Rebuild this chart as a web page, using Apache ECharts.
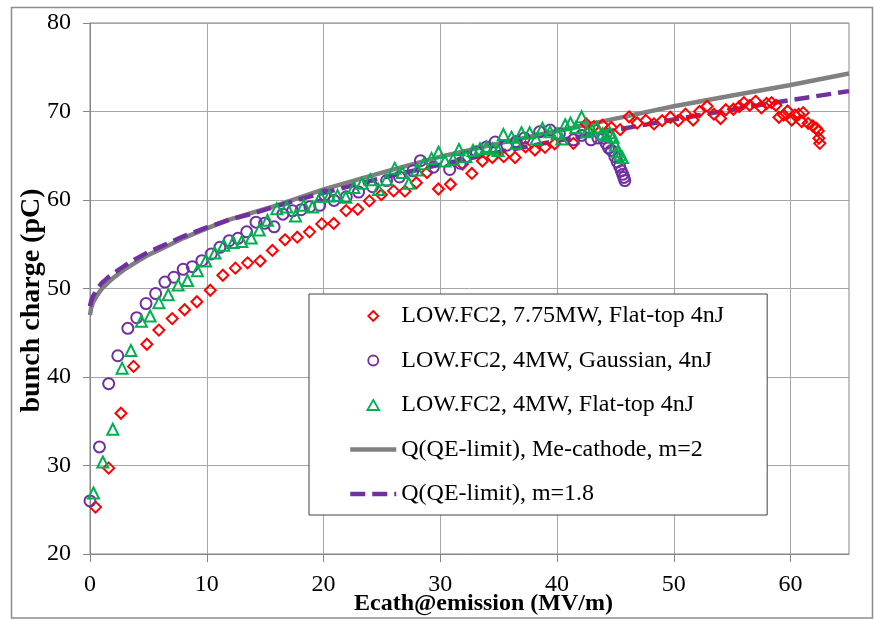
<!DOCTYPE html>
<html><head><meta charset="utf-8">
<script src="https://cdn.jsdelivr.net/npm/echarts@6/dist/echarts.min.js"></script>
<style>html,body{margin:0;padding:0;background:#fff}#c{width:874px;height:620px}</style>
</head><body><div id="c"></div><script>
const xTicks = [0, 10, 20, 30, 40, 50, 60];
const yTicks = [20, 30, 40, 50, 60, 70, 80];
const seriesNames = [
  'LOW.FC2, 7.75MW, Flat-top 4nJ',
  'LOW.FC2, 4MW, Gaussian, 4nJ',
  'LOW.FC2, 4MW, Flat-top 4nJ',
  'Q(QE-limit), Me-cathode, m=2',
  'Q(QE-limit), m=1.8'
];
const redFlatTop775 = [[0.47,25.3],[1.6,29.7],[2.65,35.9],[3.73,41.2],[4.87,43.7],[5.9,45.3],[7.04,46.6],[8.1,47.6],[9.15,48.5],[10.3,49.8],[11.38,51.5],[12.45,52.3],[13.5,52.9],[14.57,53.1],[15.62,54.3],[16.7,55.5],[17.75,55.8],[18.8,56.4],[19.85,57.3],[20.87,57.35],[21.93,58.8],[22.93,58.95],[23.92,59.9],[24.95,60.6],[26.0,61.03],[26.97,61.0],[27.95,61.95],[28.86,63.1],[29.84,61.24],[30.87,61.78],[31.9,64.07],[32.7,63.0],[33.6,64.4],[34.46,64.8],[35.43,64.9],[36.4,64.8],[37.3,66.0],[38.1,65.65],[38.97,65.95],[39.8,66.35],[41.4,66.4],[42.5,68.6],[43.15,68.3],[43.9,68.45],[44.65,68.2],[45.4,67.95],[46.17,69.4],[46.86,68.7],[47.6,69.0],[48.3,68.6],[49.0,68.96],[49.7,69.35],[50.37,68.96],[51.0,69.7],[51.65,69.04],[52.2,70.0],[52.85,70.6],[53.43,69.7],[54.0,69.2],[54.45,70.2],[55.1,70.25],[55.6,70.55],[56.0,71.0],[56.5,70.7],[57.0,71.15],[57.5,70.4],[57.94,70.9],[58.37,71.0],[58.74,70.7],[59.0,69.35],[59.4,69.6],[59.74,70.06],[60.1,69.04],[60.37,69.6],[60.7,69.7],[60.95,68.85],[61.08,69.87],[61.5,68.66],[61.9,68.36],[62.2,68.1],[62.37,67.8],[62.42,66.97],[62.5,66.4]];
const purpleGauss4 = [[0,26.0],[0.81,32.1],[1.6,39.25],[2.38,42.4],[3.24,45.5],[4.0,46.7],[4.8,48.3],[5.62,49.43],[6.42,50.73],[7.18,51.27],[7.98,52.17],[8.76,52.47],[9.58,53.14],[10.38,53.9],[11.12,54.65],[11.92,55.4],[12.67,55.67],[13.42,56.4],[14.22,57.5],[14.95,57.36],[15.77,56.97],[16.52,58.4],[17.35,58.78],[18.08,58.9],[18.83,59.24],[19.67,59.4],[20.1,60.56],[20.9,59.95],[21.95,60.37],[23.0,60.9],[24.2,61.5],[25.4,62.2],[26.5,62.6],[27.66,63.3],[28.3,64.44],[29.4,63.7],[30.8,63.45],[31.7,64.15],[32.2,64.9],[33.1,65.46],[33.95,66.0],[34.7,66.55],[35.7,66.2],[36.5,66.6],[37.2,67.0],[38.5,67.7],[39.4,67.9],[40.2,67.5],[41.4,66.8],[42.1,67.3],[42.9,66.8],[43.5,67.0],[43.94,67.0],[44.2,66.4],[44.4,65.9],[44.66,65.6],[44.95,64.9],[45.15,64.3],[45.35,63.8],[45.5,63.3],[45.62,62.9],[45.72,62.55],[45.8,62.2]];
const greenFlatTop4 = [[0.3,26.9],[1.1,30.4],[1.95,34.1],[2.75,41.0],[3.5,43.0],[4.4,46.3],[5.15,46.9],[5.9,48.4],[6.7,49.3],[7.55,50.4],[8.35,50.9],[9.2,52.0],[9.9,53.1],[10.7,54.0],[11.45,54.9],[12.25,55.2],[13.0,55.3],[13.8,55.7],[14.5,56.6],[15.2,57.7],[16.0,59.0],[16.85,59.2],[17.6,58.2],[18.3,59.4],[19.05,59.2],[19.75,60.4],[20.5,60.45],[21.2,60.5],[21.9,60.3],[22.6,61.4],[23.3,61.9],[24.0,62.3],[24.7,61.2],[25.4,62.3],[26.1,63.6],[26.75,63.1],[27.3,61.9],[28.0,63.4],[28.6,64.1],[29.25,64.7],[29.85,65.4],[30.4,64.4],[31.1,64.6],[31.6,65.7],[32.2,64.9],[32.8,65.6],[33.4,65.8],[33.95,66.0],[34.5,65.8],[34.95,65.6],[35.4,67.4],[36.1,67.1],[36.5,66.4],[36.95,67.6],[37.65,67.6],[38.2,66.9],[38.75,68.1],[39.4,67.7],[40.0,67.5],[40.4,66.9],[40.7,68.5],[41.15,68.7],[41.6,68.2],[42.1,69.4],[42.55,67.7],[43.0,67.9],[43.4,68.2],[43.9,67.5],[44.2,67.3],[44.5,67.6],[44.8,67.1],[45.0,66.2],[45.2,65.5],[45.4,65.1],[45.6,64.8]];
const qeLimitM2 = [[0,47.0],[0.1,47.8],[0.25,48.4],[0.5,49.0],[0.75,49.5],[1,49.95],[1.5,50.6],[2,51.2],[3,52.2],[4,53.0],[5,53.8],[6,54.4],[8,55.7],[10,56.8],[12,57.8],[14,58.6],[16,59.4],[18,60.3],[20,61.2],[25,63.1],[30,64.9],[35,66.4],[40,67.8],[45,69.2],[50,70.6],[55,71.8],[60,73.0],[65,74.3]];
const qeLimitM18 = [[0,48.0],[0.1,48.6],[0.25,49.1],[0.5,49.7],[0.75,50.2],[1,50.6],[1.5,51.2],[2,51.7],[3,52.6],[4,53.4],[5,54.1],[6,54.7],[8,55.9],[10,56.9],[12,57.8],[14,58.5],[16,59.3],[18,60.1],[20,60.8],[25,62.5],[30,64.0],[35,65.4],[40,66.7],[45,67.9],[50,69.1],[55,70.2],[60,71.3],[65,72.3]];

const FONT = "'Liberation Serif', 'Times New Roman', serif";
const chart = echarts.init(document.getElementById('c'), null, {renderer: 'canvas'});
const hollow = (sym, col, size) => ({
  type: 'scatter', symbol: sym, symbolSize: size, clip: false,
  itemStyle: {color: 'rgba(255,255,255,0)', borderColor: col, borderWidth: 2, opacity: 1},
  emphasis: {disabled: true}, z: 3
});
const hideDot = {color: 'rgba(0,0,0,0)', borderColor: 'rgba(0,0,0,0)', borderWidth: 0, opacity: 0};
chart.setOption({
  animation: false,
  backgroundColor: '#fff',
  graphic: [{
    type: 'rect', shape: {x: 11.5, y: 7.5, width: 861, height: 610.5},
    style: {fill: 'none', stroke: '#8c8c8c', lineWidth: 1.5}, silent: true, z: -1
  }],
  grid: {left: 90, right: 25, top: 23, bottom: 66, show: true, borderColor: '#868686', borderWidth: 1,
         containLabel: false, outerBoundsMode: 'none'},
  xAxis: {
    type: 'value', min: 0, max: 65, interval: 10,
    name: 'Ecath@emission (MV/m)', nameLocation: 'middle', nameGap: 38, nameMoveOverlap: false,
    nameTextStyle: {fontFamily: FONT, fontSize: 24, fontWeight: 'bold', color: '#000', padding: [0, 0, 0, 28]},
    axisLine: {show: true, lineStyle: {color: '#868686', width: 1}},
    axisTick: {show: true, inside: false, length: 8, lineStyle: {color: '#868686'}, customValues: xTicks},
    axisLabel: {fontFamily: FONT, fontSize: 24, color: '#000', margin: 19, customValues: xTicks},
    splitLine: {show: true, lineStyle: {color: '#a6a6a6', width: 1}}
  },
  yAxis: {
    type: 'value', min: 20, max: 80, interval: 10,
    name: 'bunch charge (pC)', nameLocation: 'middle', nameGap: 44, nameRotate: 90, nameMoveOverlap: false,
    nameTextStyle: {fontFamily: FONT, fontSize: 28, fontWeight: 'bold', color: '#000', padding: [0, 24, 0, 0]},
    axisLine: {show: true, lineStyle: {color: '#868686', width: 1}},
    axisTick: {show: true, inside: false, length: 7, lineStyle: {color: '#868686'}, customValues: yTicks},
    axisLabel: {fontFamily: FONT, fontSize: 24, color: '#000', margin: 19, customValues: yTicks},
    splitLine: {show: true, lineStyle: {color: '#a6a6a6', width: 1}}
  },
  legend: {
    orient: 'vertical', left: 309, top: 294, padding: [10, 43, 9, 39],
    itemWidth: 46, itemHeight: 10, itemGap: 20.5,
    backgroundColor: '#fff', borderColor: '#404040', borderWidth: 1,
    textStyle: {fontFamily: FONT, fontSize: 24, color: '#000'},
    lineStyle: {width: 4.5},
    selectedMode: false,
    data: [
      {name: seriesNames[0], icon: 'path://M1,0L2,1L1,2L0,1Z', itemStyle: {borderWidth: 1.8}},
      {name: seriesNames[1], icon: 'circle', itemStyle: {borderWidth: 1.8}},
      {name: seriesNames[2], icon: 'path://M1,0L2,1.7L0,1.7Z', itemStyle: {borderWidth: 1.8}},
      {name: seriesNames[3], itemStyle: hideDot},
      {name: seriesNames[4], itemStyle: hideDot}
    ]
  },
  series: [
    {type: 'line', name: seriesNames[3], data: qeLimitM2, symbol: 'none', smooth: false, clip: true,
     lineStyle: {color: '#808080', width: 4.5}, itemStyle: {color: '#808080'}, emphasis: {disabled: true}, z: 2},
    {type: 'line', name: seriesNames[4], data: qeLimitM18, symbol: 'none', smooth: false, clip: true,
     lineStyle: {color: '#7030A0', width: 4.5, type: [15, 7]}, itemStyle: {color: '#7030A0'}, emphasis: {disabled: true}, z: 2},
    Object.assign(hollow('diamond', '#FF0000', 11), {name: seriesNames[0], data: redFlatTop775}),
    Object.assign(hollow('circle', '#7030A0', 11), {name: seriesNames[1], data: purpleGauss4}),
    Object.assign(hollow('triangle', '#00B050', 11), {name: seriesNames[2], data: greenFlatTop4})
  ]
});
</script></body></html>
